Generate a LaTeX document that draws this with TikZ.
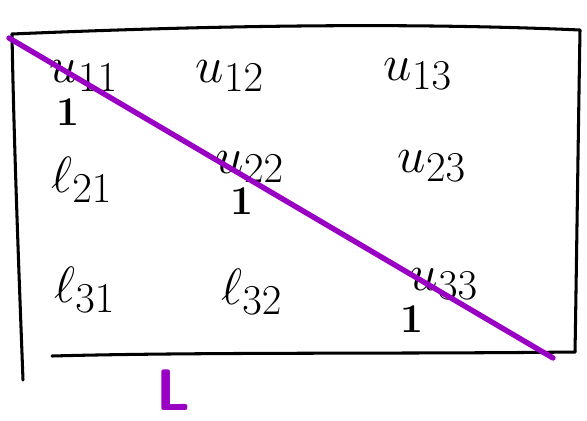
\documentclass[tikz,border=0pt]{standalone}
\usepackage{tikz}
\usetikzlibrary{arrows.meta, positioning, calc}
\usepackage{graphicx}
\usepackage{xcolor}
\usepackage{amsmath}
\definecolor{ink}{HTML}{000000}
\definecolor{violet2}{HTML}{9A00C4}
\newcommand{\bigent}[1]{\scalebox{1.75}{\Huge$#1$}}
\newcommand{\bigone}{\scalebox{1.4}{\Huge\bfseries 1}}
\tikzset{
  entry/.style={inner sep=0pt, ink},
  unit/.style={inner sep=0pt, ink},
  frame/.style={line width=2.6pt, ink, line cap=round, line join=round},
  diag/.style={line width=4.6pt, violet2, line cap=round},
  tag/.style={font=\fontsize{50}{54}\selectfont\sffamily\bfseries, violet2, inner sep=0pt},
}

\begin{document}
\begin{tikzpicture}[x=0.03cm, y=-0.03cm]
\useasboundingbox (0,0) rectangle (587,421);
% matrix frame
\coordinate (tl) at (12,34);
\coordinate (tr) at (580,30);
\coordinate (br) at (575,352);
\coordinate (bl) at (52,356);
\coordinate (lb) at (23,380);
\draw[frame] (tl) .. controls (200,26) and (400,22) .. (tr) .. controls (578,150) and (576,300) .. (br);
\draw[frame] (tl) .. controls (14,150) and (20,300) .. (lb);
\draw[frame] (bl) .. controls (200,352) and (400,354) .. (br);
% entries
\node[entry] (u11) at (84,76) {\bigent{u_{11}}};
\node[entry] (u12) at (230,76) {\bigent{u_{12}}};
\node[entry] (u13) at (418,74) {\bigent{u_{13}}};
\node[entry] (l21) at (82,180) {\bigent{\ell_{21}}};
\node[entry] (u22) at (250,167) {\bigent{u_{22}}};
\node[entry] (u23) at (432,166) {\bigent{u_{23}}};
\node[entry] (l31) at (85,290) {\bigent{\ell_{31}}};
\node[entry] (l32) at (252,292) {\bigent{\ell_{32}}};
\node[entry] (u33) at (444,284) {\bigent{u_{33}}};
% ones on the diagonal
\node[unit] (o1) at (68,112) {\bigone};
\node[unit] (o2) at (242,201) {\bigone};
\node[unit] (o3) at (412,319) {\bigone};
% L
\coordinate (d0) at (9,38);
\coordinate (d1) at (553,358);
\draw[diag] (d0) -- (d1);
\node[tag] (lab) at (174,390) {L};
\end{tikzpicture}
\end{document}
